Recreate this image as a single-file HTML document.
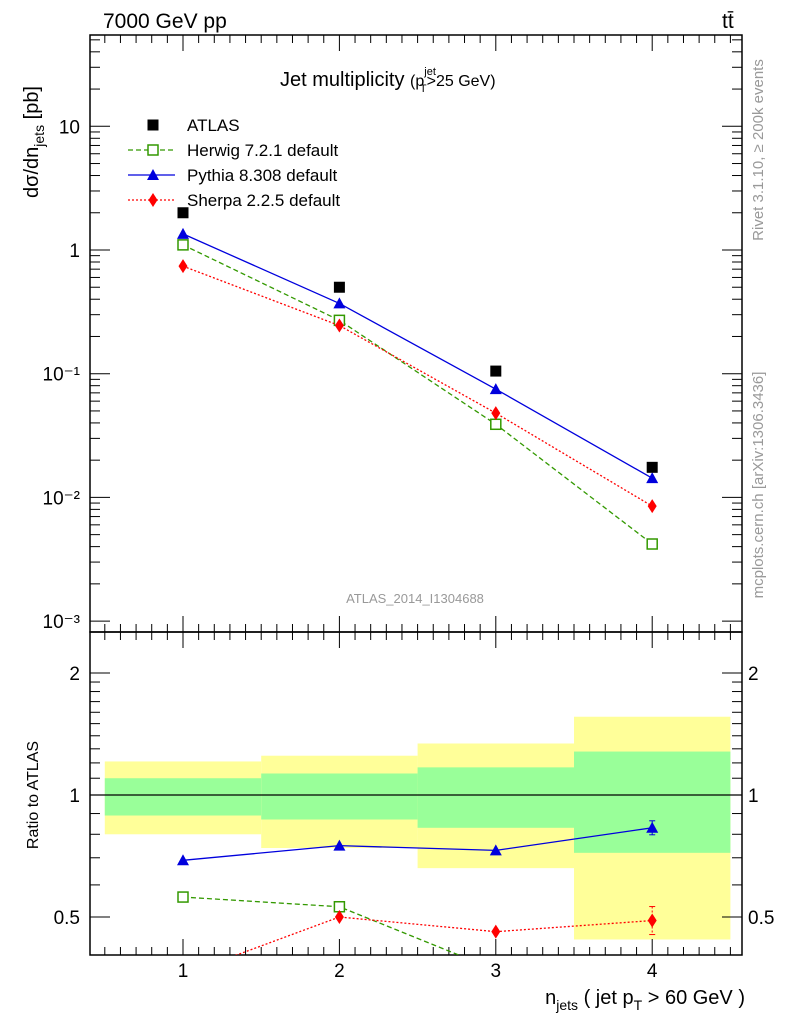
<!DOCTYPE html>
<html><head><meta charset="utf-8"><style>
body{margin:0;background:#fff}
svg{display:block;font-family:"Liberation Sans",sans-serif}
</style></head><body>
<svg id="c" width="786" height="1024" viewBox="0 0 786 1024">
<g id="bands"></g>
<g id="axes"></g>
<g id="series"></g>
<g id="texts">
<text x="103" y="28" font-size="21">7000 GeV pp</text>
<text x="722" y="28" font-size="21">tt̄</text>
<text x="280" y="86" font-size="20">Jet multiplicity <tspan font-size="16">(p</tspan><tspan font-size="11" dy="-11">jet</tspan><tspan font-size="11" dx="-16" dy="17">T</tspan><tspan font-size="16" dy="-6">&gt;25 GeV)</tspan></text>
<text x="415" y="603" font-size="13" fill="#999" text-anchor="middle">ATLAS_2014_I1304688</text>
<text transform="translate(763,150) rotate(-90)" font-size="15" fill="#999" text-anchor="middle">Rivet 3.1.10, ≥ 200k events</text>
<text transform="translate(763,485) rotate(-90)" font-size="15" fill="#999" text-anchor="middle">mcplots.cern.ch [arXiv:1306.3436]</text>
<text transform="translate(38,198) rotate(-90)" font-size="20">dσ/dn<tspan font-size="14" dy="6">jets</tspan><tspan dy="-6"> [pb]</tspan></text>
<text transform="translate(38,795) rotate(-90)" font-size="16" text-anchor="middle">Ratio to ATLAS</text>
<text x="745" y="1004" font-size="20" text-anchor="end">n<tspan font-size="14" dy="6">jets</tspan><tspan dy="-6"> ( jet p</tspan><tspan font-size="14" dy="6">T</tspan><tspan dy="-6"> &gt; 60 GeV )</tspan></text>
</g>
<g id="legend"></g>
</svg>
<script>
const categories=[1,2,3,4];
const atlas=[2.0,0.5,0.105,0.0175];
const herwig=[1.1,0.27,0.039,0.0042];
const pythia=[1.35,0.37,0.075,0.0143];
const sherpa=[0.74,0.245,0.048,0.0085];
const ratioHerwig=[0.56,0.53,0.37,0.24];
const ratioPythia=[0.69,0.75,0.73,0.83];
const ratioSherpa=[0.36,0.50,0.46,0.49];
const bandYellowHi=[1.21,1.25,1.34,1.56];
const bandYellowLo=[0.80,0.74,0.66,0.44];
const bandGreenHi=[1.10,1.13,1.17,1.28];
const bandGreenLo=[0.89,0.87,0.83,0.72];
const mainTicks=[0.001,0.01,0.1,1,10];
const mainTickLabels=["10⁻³","10⁻²","10⁻¹","1","10"];
const ratioTicks=[0.5,1,2];
const ratioTickLabels=["0.5","1","2"];

const NS="http://www.w3.org/2000/svg";
const L=90,R=742,T=35,MB=632,RB=955;
const X=v=>183+(v-1)*156.4;
const Y=v=>250-Math.log10(v)*123.7;
const YR=v=>795-Math.log2(v)*122;
function mk(p,tag,a){const e=document.createElementNS(NS,tag);for(const k in a)e.setAttribute(k,a[k]);document.getElementById(p).appendChild(e);return e;}

categories.forEach((c,i)=>{
 let e=mk('bands','rect',{x:X(c-0.5),y:YR(bandYellowHi[i]),width:156.4,height:YR(bandYellowLo[i])-YR(bandYellowHi[i]),fill:'#ffff99'});
 
 
 e=mk('bands','rect',{x:X(c-0.5),y:YR(bandGreenHi[i]),width:156.4,height:YR(bandGreenLo[i])-YR(bandGreenHi[i]),fill:'#99ff99'});
 
 
});
mk('bands','line',{x1:L,x2:R,y1:YR(1),y2:YR(1),stroke:'#000','stroke-width':1.2});

let f=mk('axes','rect',{x:L,y:T,width:R-L,height:MB-T,fill:'none',stroke:'#000','stroke-width':1.5});

f=mk('axes','rect',{x:L,y:MB,width:R-L,height:RB-MB,fill:'none',stroke:'#000','stroke-width':1.5});


for(let k=5;k<=45;k++){const v=k/10,x=X(v);if(x<L||x>R)continue;const big=k%10==0;const len=big?16:8;
 [[T,1],[MB,-1],[MB,1],[RB,-1]].forEach(([y,d])=>mk('axes','line',{x1:x,x2:x,y1:y,y2:y+d*len,stroke:'#000'}));}
categories.forEach(c=>{const t=mk('axes','text',{x:X(c),y:977,'font-size':19,'text-anchor':'middle'});t.textContent=c;
 });

for(let d=-3;d<=1;d++){for(let m=1;m<=9;m++){const v=m*Math.pow(10,d),y=Y(v);if(y<T||y>MB)continue;const len=m==1?20:10;
 mk('axes','line',{x1:L,x2:L+len,y1:y,y2:y,stroke:'#000'});mk('axes','line',{x1:R,x2:R-len,y1:y,y2:y,stroke:'#000'});}}
mainTicks.forEach((v,i)=>{const t=mk('axes','text',{x:80,y:Y(v)+7,'font-size':19,'text-anchor':'end'});t.textContent=mainTickLabels[i];
 });
for(const v of [0.4,0.5,0.6,0.7,0.8,0.9,1,2]){const y=YR(v);if(y<MB||y>RB)continue;const big=[0.5,1,2].includes(v);const len=big?20:10;
 mk('axes','line',{x1:L,x2:L+len,y1:y,y2:y,stroke:'#000'});mk('axes','line',{x1:R,x2:R-len,y1:y,y2:y,stroke:'#000'});}
for(const v of [1.1,1.2,1.3,1.4,1.5,1.6,1.7,1.8,1.9]){const y=YR(v);mk('axes','line',{x1:L,x2:L+10,y1:y,y2:y,stroke:'#000'});mk('axes','line',{x1:R,x2:R-10,y1:y,y2:y,stroke:'#000'});}
ratioTicks.forEach((v,i)=>{[[80,'end'],[748,'start']].forEach(([x,a])=>{const t=mk('axes','text',{x:x,y:YR(v)+7,'font-size':19,'text-anchor':a});t.textContent=ratioTickLabels[i];
 });});

function marker(g,type,x,y,col){
 if(type=='sq')return mk(g,'rect',{x:x-5.5,y:y-5.5,width:11,height:11,fill:'#000'});
 if(type=='osq')return mk(g,'rect',{x:x-5,y:y-5,width:10,height:10,fill:'#fff',stroke:col,'stroke-width':1.5});
 if(type=='tri')return mk(g,'path',{d:`M${x} ${y-6}L${x+6} ${y+5}L${x-6} ${y+5}Z`,fill:col});
 return mk(g,'path',{d:`M${x} ${y-7}L${x+4.5} ${y}L${x} ${y+7}L${x-4.5} ${y}Z`,fill:col});
}
const sp=[['Herwig',herwig,ratioHerwig,'#339900','5,3','osq'],['Pythia',pythia,ratioPythia,'#0000dd','','tri'],['Sherpa',sherpa,ratioSherpa,'#ff0000','2,2','dia']];
const defs=mk('series','clipPath',{id:'rc'});
const cr=document.createElementNS(NS,'rect');cr.setAttribute('x',L);cr.setAttribute('y',MB);cr.setAttribute('width',R-L);cr.setAttribute('height',RB-MB);defs.appendChild(cr);
const rg=mk('series','g',{'clip-path':'url(#rc)',id:'rg'});
sp.forEach(([n,d,r,col,da,mt])=>{
 let l=mk('series','polyline',{points:categories.map((c,i)=>X(c)+','+Y(d[i])).join(' '),fill:'none',stroke:col,'stroke-width':1.3,'stroke-dasharray':da});
 
 l=mk('rg','polyline',{points:categories.map((c,i)=>X(c)+','+YR(r[i])).join(' '),fill:'none',stroke:col,'stroke-width':1.3,'stroke-dasharray':da});
 
 categories.forEach((c,i)=>{let m=marker('series',mt,X(c),Y(d[i]),col);
  
  m=marker('rg',mt,X(c),YR(r[i]),col);
  });
});
// small error bars at last bin
[[ratioPythia,'#0000dd',7,''],[ratioSherpa,'#ff0000',14,'2,2']].forEach(([r,col,h,da])=>{const x=X(4),y=YR(r[3]);
 mk('rg','line',{x1:x,x2:x,y1:y-h,y2:y+h,stroke:col,'stroke-dasharray':da});
 mk('rg','line',{x1:x-3,x2:x+3,y1:y-h,y2:y-h,stroke:col});mk('rg','line',{x1:x-3,x2:x+3,y1:y+h,y2:y+h,stroke:col});});
categories.forEach((c,i)=>{const m=marker('series','sq',X(c),Y(atlas[i]));
 });

const leg=[['ATLAS','#000','','sq'],['Herwig 7.2.1 default','#339900','5,3','osq'],['Pythia 8.308 default','#0000dd','','tri'],['Sherpa 2.2.5 default','#ff0000','2,2','dia']];
leg.forEach(([t,col,da,mt],i)=>{const y=125+i*25;
 if(i>0)mk('legend','line',{x1:128,x2:175,y1:y,y2:y,stroke:col,'stroke-width':1.3,'stroke-dasharray':da});
 marker('legend',mt,153,y,col);
 const e=mk('legend','text',{x:187,y:y+6,'font-size':17});e.textContent=t;
 });
</script>
</body></html>
